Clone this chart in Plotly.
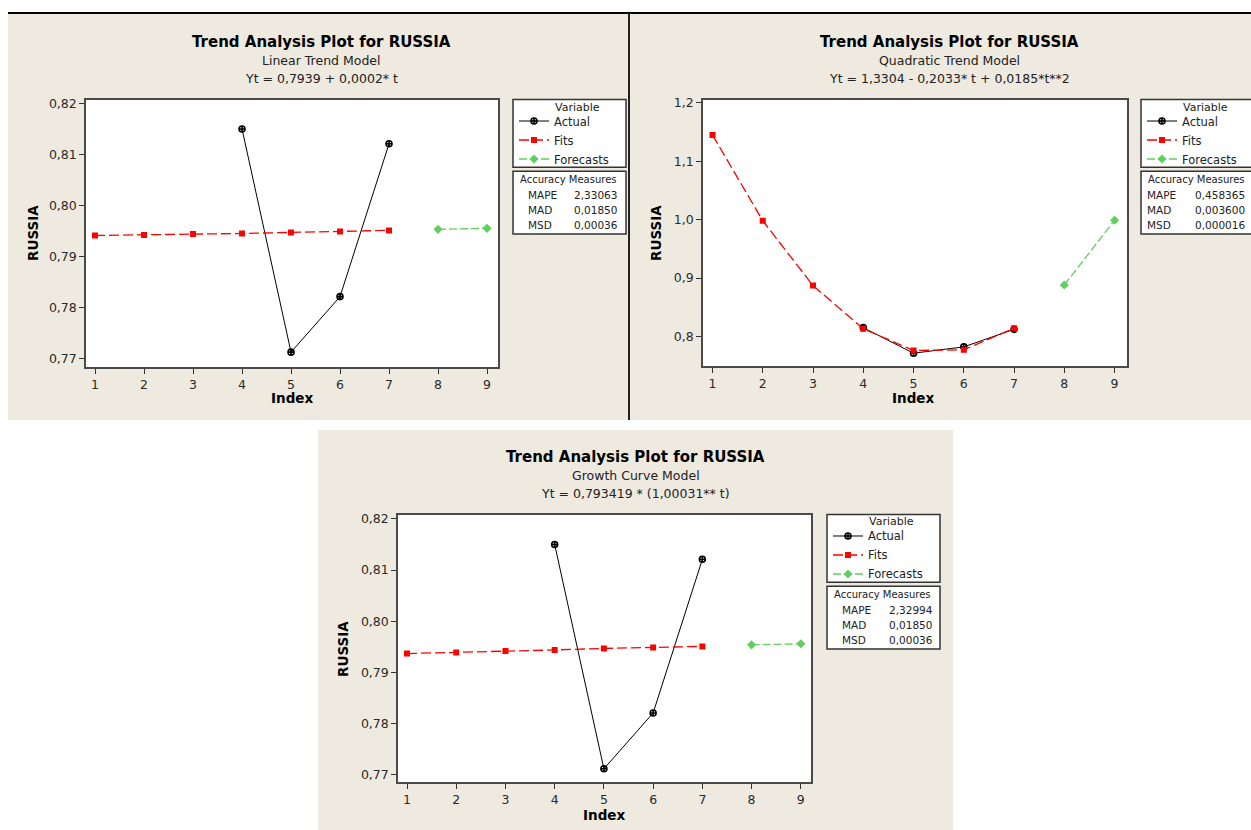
import plotly.graph_objects as go

# ---------------- data ----------------
fit_index = [1, 2, 3, 4, 5, 6, 7]
actual_index = [4, 5, 6, 7]
forecast_index = [8, 9]
actual = [0.8150, 0.7712, 0.7821, 0.8121]

linear_fits = [0.7941, 0.7942, 0.7944, 0.7945, 0.7947, 0.7949, 0.7951]
linear_forecasts = [0.7953, 0.7955]
quad_fits = [1.145, 0.998, 0.887, 0.813, 0.776, 0.777, 0.814]
quad_forecasts = [0.888, 0.999]
growth_fits = [0.7937, 0.7939, 0.7942, 0.7944, 0.7947, 0.7949, 0.7951]
growth_forecasts = [0.7954, 0.7956]

titles = ["Trend Analysis Plot for RUSSIA"] * 3
subtitles = ["Linear Trend Model", "Quadratic Trend Model", "Growth Curve Model"]
equations = ["Yt = 0,7939 + 0,0002* t",
             "Yt = 1,3304 - 0,2033* t + 0,0185*t**2",
             "Yt = 0,793419 * (1,00031** t)"]

measure_names = ["MAPE", "MAD", "MSD"]
linear_measures = ["2,33063", "0,01850", "0,00036"]
quad_measures = ["0,458365", "0,003600", "0,000016"]
growth_measures = ["2,32994", "0,01850", "0,00036"]

x_ticks = [1, 2, 3, 4, 5, 6, 7, 8, 9]
y_ticks_small = [0.77, 0.78, 0.79, 0.80, 0.81, 0.82]
y_ticktext_small = ["0,77", "0,78", "0,79", "0,80", "0,81", "0,82"]
y_ticks_quad = [0.8, 0.9, 1.0, 1.1, 1.2]
y_ticktext_quad = ["0,8", "0,9", "1,0", "1,1", "1,2"]

# ---------------- layout helpers ----------------
W, H = 1251, 830
def px(x):
    return x / W
def py(y):
    return 1 - y / H

FONT = "DejaVu Sans"
BEIGE = "#EEEAE0"
RED = "#FF0000"
GREEN = "#5FCF5F"
FRAME = "#4a4a4a"
SMALL = 10.5

panels = [
    dict(fits=linear_fits, fc=linear_forecasts, meas=linear_measures,
         plot=(86, 498, 96, 365), xr=[0.816, 9.224], yr=[0.76824, 0.82078],
         yt=y_ticks_small, ytt=y_ticktext_small,
         bg=(8, 628, 10, 418), tx=322, ty=(38, 57, 75),
         ylab=(33, 230), xlab=(292, 396),
         leg=(513, 626, 96, 164), acc=(513, 626, 168, 231),
         acc_lx=526, acc_vx=572, acc_y=(176, 192, 207, 222)),
    dict(fits=quad_fits, fc=quad_forecasts, meas=quad_measures,
         plot=(703, 1127, 96, 364), xr=[0.811, 9.247], yr=[0.7489, 1.2056],
         yt=y_ticks_quad, ytt=y_ticktext_quad,
         bg=(630, 1251, 10, 418), tx=949, ty=(38, 57, 75),
         ylab=(656, 230), xlab=(913, 396),
         leg=(1141, 1253, 96, 164), acc=(1141, 1253, 168, 231),
         acc_lx=1145, acc_vx=1193, acc_y=(176, 192, 207, 222)),
    dict(fits=growth_fits, fc=growth_forecasts, meas=growth_measures,
         plot=(398, 811, 513, 782), xr=[0.817, 9.207], yr=[0.76858, 0.82084],
         yt=y_ticks_small, ytt=y_ticktext_small,
         bg=(318, 953, 428, 830), tx=636, ty=(455, 474, 492),
         ylab=(343, 648), xlab=(604, 815),
         leg=(827, 940, 513, 581), acc=(827, 940, 585, 648),
         acc_lx=840, acc_vx=887, acc_y=(593, 609, 624, 639)),
]

fig = go.Figure()
shapes = []
annotations = []
layout = dict(width=W, height=H, margin=dict(l=0, r=0, t=0, b=0),
              paper_bgcolor="white", plot_bgcolor="white",
              font=dict(family=FONT, color="#222"), showlegend=True)

for i, p in enumerate(panels):
    n = "" if i == 0 else str(i + 1)
    xa, ya = "x" + n, "y" + n
    legname = "legend" + n
    x0, x1, y0, y1 = p["plot"]

    fig.add_trace(go.Scatter(
        x=actual_index, y=actual, mode="lines+markers", name="Actual",
        xaxis=xa, yaxis=ya, legend=legname,
        line=dict(color="black", width=1),
        marker=dict(symbol="circle-cross-open", size=6, color="black",
                    line=dict(width=1.6, color="black"))))
    fig.add_trace(go.Scatter(
        x=fit_index, y=p["fits"], mode="lines+markers", name="Fits",
        xaxis=xa, yaxis=ya, legend=legname,
        line=dict(color=RED, width=1.3, dash="10px,4px"),
        marker=dict(symbol="square", size=6, color=RED)))
    fig.add_trace(go.Scatter(
        x=forecast_index, y=p["fc"], mode="lines+markers", name="Forecasts",
        xaxis=xa, yaxis=ya, legend=legname,
        line=dict(color=GREEN, width=1.3, dash="8px,3px"),
        marker=dict(symbol="diamond", size=7, color=GREEN)))

    axcommon = dict(showline=True, mirror=True, linecolor=FRAME, linewidth=1.5,
                    ticks="outside", ticklen=5, tickcolor="#333", tickwidth=1,
                    tickfont=dict(size=12.5, color="#2a2a2a", family=FONT),
                    showgrid=False, zeroline=False, fixedrange=True)
    layout["xaxis" + n] = dict(axcommon, domain=[px(x0), px(x1)], range=p["xr"],
                               tickvals=x_ticks, ticktext=[str(v) for v in x_ticks],
                               anchor=ya)
    layout["yaxis" + n] = dict(axcommon, domain=[py(y1), py(y0)], range=p["yr"],
                               tickvals=p["yt"], ticktext=p["ytt"], anchor=xa)

    # legend (items only; box + title drawn separately)
    lx0, lx1, ly0, ly1 = p["leg"]
    layout[legname] = dict(x=px(lx0 + 1), y=py(ly0 + 7), xanchor="left", yanchor="top",
                           bgcolor="rgba(0,0,0,0)", borderwidth=0,
                           font=dict(size=11.5, family=FONT, color="#222"),
                           itemwidth=30, tracegroupgap=0)

    # panel background
    bx0, bx1, by0, by1 = p["bg"]
    shapes.append(dict(type="rect", xref="paper", yref="paper", layer="below",
                       x0=px(bx0), x1=px(bx1), y0=py(by1), y1=py(by0),
                       fillcolor=BEIGE, line=dict(width=0)))
    # white plot area
    shapes.append(dict(type="rect", xref=xa + " domain", yref=ya + " domain", layer="below",
                       x0=0, x1=1, y0=0, y1=1, fillcolor="white", line=dict(width=0)))
    # legend box
    shapes.append(dict(type="rect", xref="paper", yref="paper", layer="below",
                       x0=px(lx0), x1=px(lx1), y0=py(ly1), y1=py(ly0),
                       fillcolor="white", line=dict(color="#333", width=1.5)))
    ax0, ax1, ay0, ay1 = p["acc"]
    shapes.append(dict(type="rect", xref="paper", yref="paper", layer="below",
                       x0=px(ax0), x1=px(ax1), y0=py(ay1), y1=py(ay0),
                       fillcolor="white", line=dict(color="#333", width=1.5)))

    # titles
    tfonts = [dict(size=15, family=FONT, color="black"),
              dict(size=12.5, family=FONT, color="#222"),
              dict(size=12.5, family=FONT, color="#222")]
    texts = ["<b>" + titles[i] + "</b>", subtitles[i], equations[i]]
    for t, f, yy in zip(texts, tfonts, p["ty"]):
        annotations.append(dict(text=t, x=px(p["tx"]), y=py(yy), xref="paper", yref="paper",
                                xanchor="center", yanchor="middle", showarrow=False, font=f))
    # axis labels
    annotations.append(dict(text="<b>RUSSIA</b>", x=px(p["ylab"][0]), y=py(p["ylab"][1]),
                            xref="paper", yref="paper", textangle=-90, showarrow=False,
                            xanchor="center", yanchor="middle",
                            font=dict(size=13.5, family=FONT, color="black")))
    annotations.append(dict(text="<b>Index</b>", x=px(p["xlab"][0]), y=py(p["xlab"][1]),
                            xref="paper", yref="paper", showarrow=False,
                            xanchor="center", yanchor="middle",
                            font=dict(size=13.5, family=FONT, color="black")))
    # legend title
    annotations.append(dict(text="Variable", x=px((lx0 + lx1) / 2 + 8), y=py(ly0 + 7.5),
                            xref="paper", yref="paper", showarrow=False,
                            xanchor="center", yanchor="middle",
                            font=dict(size=11, family=FONT, color="#222")))
    # accuracy measures
    ys = p["acc_y"]
    annotations.append(dict(text="Accuracy Measures", x=px((ax0 + ax1) / 2 - 1), y=py(ys[0]),
                            xref="paper", yref="paper", showarrow=False,
                            xanchor="center", yanchor="middle",
                            font=dict(size=10, family=FONT, color="#222")))
    for name, val, yy in zip(measure_names, p["meas"], ys[1:]):
        annotations.append(dict(text=name, x=px(p["acc_lx"]), y=py(yy), xref="paper", yref="paper",
                                showarrow=False, xanchor="left", yanchor="middle",
                                font=dict(size=SMALL, family=FONT, color="#222")))
        annotations.append(dict(text=val, x=px(p["acc_vx"]), y=py(yy), xref="paper", yref="paper",
                                showarrow=False, xanchor="left", yanchor="middle",
                                font=dict(size=SMALL, family=FONT, color="#222")))

# separators
shapes.append(dict(type="line", xref="paper", yref="paper", layer="above",
                   x0=px(8), x1=1, y0=py(9), y1=py(9), line=dict(color="black", width=2)))
shapes.append(dict(type="line", xref="paper", yref="paper", layer="above",
                   x0=px(629), x1=px(629), y0=py(418), y1=py(9), line=dict(color="#222", width=2)))

layout["shapes"] = shapes
layout["annotations"] = annotations
fig.update_layout(**layout)
fig.write_html("out.html")
